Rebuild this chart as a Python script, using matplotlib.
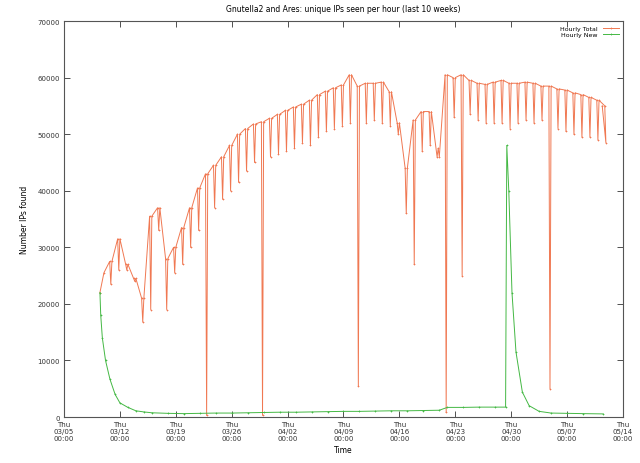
import matplotlib
matplotlib.use("Agg")
import matplotlib.pyplot as plt
import matplotlib.dates as mdates
import pandas as pd

# ---- data -------------------------------------------------------------
start = pd.Timestamp("2009-03-05 00:00")
x_ticks_days = list(range(0, 71, 7))

# Hourly total: daily peak and the nightly dip that follows it
total_days = list(range(5, 68))
total_peak = [25500, 27500, 31500, 27000, 24500, 21000, 35500, 37000, 28000, 30000,
              33500, 37000, 40500, 43000, 44500, 46000, 48000, 50000, 51000, 51800,
              52200, 52800, 53500, 54200, 54800, 55300, 56000, 57000, 57600, 58200,
              58700, 60500, 58500, 59000, 59000, 59200, 57500, 52000, 44000, 52500,
              54000, 54000, 46000, 60500, 60000, 60500, 59500, 59000, 58800, 59200,
              59500, 59000, 59000, 59200, 59000, 58500, 58500, 58000, 57800, 57300,
              57000, 56500, 56000]
total_dip = [23500, 26000, 26000, 24000, 16800, 19000, 33000, 19000, 25500, 27000,
             30000, 33000, 300, 37000, 38500, 40000, 41500, 43500, 45000, 300,
             46000, 46500, 47000, 47500, 48500, 48000, 49500, 50500, 51000, 51500,
             52000, 5500, 52000, 52500, 52000, 51500, 50000, 36000, 27000, 47000,
             48000, 47500, 800, 53000, 25000, 53500, 52500, 52000, 52000, 52000,
             51000, 52000, 52500, 52000, 52500, 5000, 51000, 50500, 50000, 49500,
             49500, 49000, 48500]
total_first = (4.5, 22000)
total_last = (67.4, 55000)

# Hourly new hosts
new_days = [4.5, 4.6, 4.8, 5.2, 5.75, 6.4, 7.0, 8.0, 9.0, 10.0, 11.0, 13.0, 15.0,
            17.0, 19.0, 21.0, 23.0, 25.0, 27.0, 29.0, 31.0, 33.0, 35.0, 37.0, 39.0,
            41.0, 43.0, 45.0, 47.0, 48.0, 50.0, 52.0, 54.0, 55.3, 55.45, 55.7, 56.1,
            56.6, 57.4, 58.25, 59.5, 61.0, 63.0, 65.0, 67.5]
new_vals = [22000, 18000, 14000, 10000, 6700, 4000, 2500, 1700, 1100, 900, 750, 650,
            600, 650, 700, 700, 750, 800, 850, 850, 900, 950, 1000, 1000, 1050,
            1100, 1100, 1150, 1200, 1700, 1700, 1750, 1750, 1750, 48000, 40000, 22000,
            11500, 4400, 2000, 1000, 700, 650, 600, 550]

# ---- build plotting sequences ----------------------------------------
# each day: rise towards the next day's level, then a short nightly dip
next_peak = total_peak[1:] + [total_last[1]]
t_days = [total_first[0]]
t_vals = [total_first[1]]
for d, p, pn, q in zip(total_days, total_peak, next_peak, total_dip):
    t_days += [d, d + 0.72, d + 0.86]
    t_vals += [p, pn, q]
t_days.append(total_last[0])
t_vals.append(total_last[1])

t_time = [start + pd.Timedelta(days=d) for d in t_days]
n_time = [start + pd.Timedelta(days=d) for d in new_days]

# ---- figure -----------------------------------------------------------
plt.rcParams['font.family'] = ['DejaVu Sans']
fig = plt.figure(figsize=(6.4, 4.64), dpi=100)
ax = fig.add_axes([0.1, 0.0991, 0.8734, 0.8534])

red = '#f07852'
green = '#44b844'
ax.plot(t_time, t_vals, color=red, lw=0.7, marker='+', ms=2.0, mew=0.5,
        label='Hourly Total')
ax.plot(n_time, new_vals, color=green, lw=0.7, marker='+', ms=2.0, mew=0.5,
        label='Hourly New')

ax.set_xlim(start, start + pd.Timedelta(days=70))
ax.set_ylim(0, 70000)
ax.set_yticks(range(0, 70001, 10000))
ax.set_xticks([start + pd.Timedelta(days=d) for d in x_ticks_days])
ax.xaxis.set_major_formatter(mdates.DateFormatter('%a\n%m/%d\n%H:%M'))

ax.tick_params(direction='in', length=4, width=0.6, labelsize=5,
               top=True, right=True, colors='#333333', pad=3)
for s in ax.spines.values():
    s.set_color('#555555')
    s.set_linewidth(0.8)

ax.set_title('Gnutella2 and Ares: unique IPs seen per hour (last 10 weeks)',
             fontsize=5.5, pad=7)
ax.set_xlabel('Time', fontsize=5.5, labelpad=3)
ax.set_ylabel('Number IPs found', fontsize=5.5, labelpad=6)

ax.legend(loc='upper right', fontsize=4.5, frameon=False, markerfirst=False,
          handlelength=2.5, borderaxespad=0.3, labelspacing=0.2)

fig.savefig('out.png', dpi=100)
